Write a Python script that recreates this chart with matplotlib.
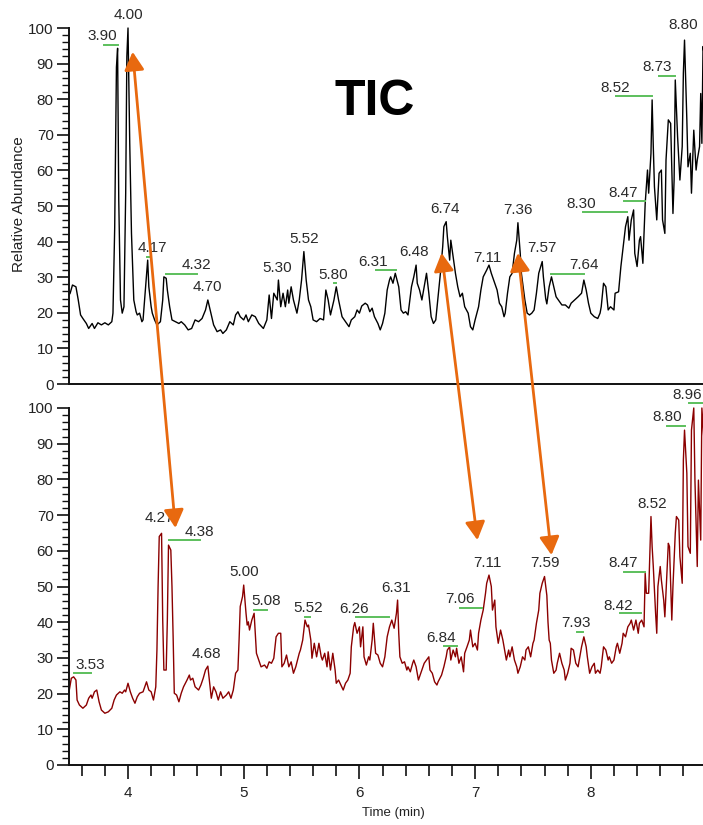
import matplotlib
matplotlib.use("Agg")
import matplotlib.pyplot as plt
from matplotlib.patches import ConnectionPatch
from matplotlib.ticker import MultipleLocator

plt.rcParams['font.family'] = ['Liberation Sans', 'DejaVu Sans']

# ---------------- data ----------------
top_time = [3.49, 3.50, 3.52, 3.55, 3.57, 3.59, 3.61, 3.64, 3.66, 3.69, 3.71, 3.74, 3.77, 3.80, 3.83, 3.86, 3.87, 3.885, 3.90, 3.91,
            3.92, 3.935, 3.95, 3.965, 3.98, 3.99, 4.00, 4.015, 4.03, 4.05, 4.07, 4.08, 4.10, 4.12, 4.13, 4.15, 4.17, 4.18, 4.20, 4.21,
            4.23, 4.25, 4.28, 4.30, 4.31, 4.33, 4.34, 4.36, 4.38, 4.41, 4.44, 4.46, 4.49, 4.52, 4.55, 4.58, 4.61, 4.64, 4.67, 4.69,
            4.71, 4.74, 4.77, 4.80, 4.82, 4.85, 4.88, 4.91, 4.93, 4.95, 4.97, 5.00, 5.02, 5.04, 5.07, 5.10, 5.13, 5.17, 5.20, 5.22,
            5.24, 5.26, 5.29, 5.30, 5.32, 5.34, 5.36, 5.38, 5.39, 5.41, 5.43, 5.46, 5.48, 5.50, 5.52, 5.54, 5.56, 5.58, 5.60, 5.63,
            5.66, 5.69, 5.71, 5.73, 5.75, 5.78, 5.80, 5.82, 5.85, 5.88, 5.91, 5.93, 5.96, 5.98, 6.00, 6.02, 6.05, 6.07, 6.09, 6.11,
            6.13, 6.16, 6.18, 6.20, 6.22, 6.24, 6.26, 6.27, 6.29, 6.31, 6.34, 6.36, 6.38, 6.40, 6.42, 6.45, 6.47, 6.49, 6.50, 6.52,
            6.54, 6.56, 6.58, 6.60, 6.62, 6.64, 6.66, 6.68, 6.70, 6.72, 6.73, 6.75, 6.76, 6.78, 6.79, 6.81, 6.83, 6.85, 6.87, 6.89,
            6.91, 6.94, 6.96, 6.98, 7.00, 7.03, 7.05, 7.07, 7.10, 7.12, 7.14, 7.17, 7.19, 7.21, 7.23, 7.25, 7.26, 7.28, 7.30, 7.32,
            7.34, 7.36, 7.37, 7.39, 7.40, 7.43, 7.45, 7.47, 7.49, 7.51, 7.53, 7.55, 7.58, 7.59, 7.61, 7.62, 7.64, 7.66, 7.68, 7.70,
            7.72, 7.75, 7.78, 7.81, 7.83, 7.86, 7.89, 7.92, 7.94, 7.96, 7.98, 8.00, 8.03, 8.06, 8.08, 8.09, 8.11, 8.13, 8.15, 8.17,
            8.20, 8.21, 8.24, 8.26, 8.28, 8.29, 8.30, 8.32, 8.33, 8.35, 8.37, 8.38, 8.40, 8.42, 8.43, 8.45, 8.47, 8.49, 8.50, 8.52,
            8.53, 8.54, 8.55, 8.57, 8.59, 8.61, 8.62, 8.64, 8.65, 8.67, 8.69, 8.71, 8.72, 8.73, 8.75, 8.77, 8.79, 8.80, 8.81, 8.83,
            8.84, 8.86, 8.87, 8.89, 8.91, 8.92, 8.94, 8.95, 8.96, 8.97, 8.99]
top_val = [25.0, 25.5, 27.8, 27.3, 23.6, 19.4, 18.4, 17.0, 15.6, 17.0, 15.6, 17.2, 16.6, 17.2, 16.6, 17.5, 19.9, 44.0, 89.0, 94.3,
           51.7, 23.6, 19.9, 21.7, 53.6, 92.0, 100.0, 67.6, 42.3, 23.6, 20.3, 19.4, 19.9, 17.5, 18.0, 26.4, 34.8, 27.3, 21.7, 19.9,
           18.0, 16.6, 17.5, 23.6, 30.1, 29.7, 26.4, 21.7, 18.0, 17.5, 17.0, 17.5, 16.6, 15.2, 15.6, 18.0, 17.5, 18.4, 20.8, 23.6,
           20.8, 16.6, 14.7, 15.2, 14.2, 15.2, 17.5, 16.6, 19.4, 20.3, 18.9, 18.0, 19.4, 17.5, 19.4, 18.9, 17.0, 15.6, 18.0, 25.0,
           18.4, 25.5, 23.6, 29.2, 21.7, 25.5, 21.7, 26.4, 22.7, 27.3, 23.6, 19.9, 23.6, 29.2, 37.2, 29.2, 23.6, 21.7, 18.0, 17.5,
           18.4, 18.0, 26.4, 23.6, 19.4, 23.6, 27.3, 23.6, 18.9, 17.5, 16.1, 18.0, 18.9, 20.8, 19.9, 21.9, 22.7, 22.2, 20.3, 21.3,
           18.9, 17.0, 15.2, 17.0, 19.9, 26.4, 29.2, 30.1, 28.3, 31.1, 27.3, 20.8, 19.9, 20.3, 19.4, 27.3, 30.1, 33.4, 28.3, 26.4,
           23.6, 27.3, 31.1, 25.5, 18.9, 17.0, 18.0, 24.5, 31.1, 38.6, 44.2, 45.6, 41.4, 34.8, 40.4, 35.8, 31.1, 27.3, 24.5, 25.5,
           21.7, 19.9, 16.1, 15.2, 18.0, 21.7, 26.4, 30.1, 32.0, 33.4, 31.1, 28.3, 26.4, 22.7, 21.7, 18.9, 19.9, 25.5, 30.1, 31.1,
           36.7, 40.4, 45.3, 36.7, 31.1, 23.6, 19.9, 19.4, 19.9, 20.8, 25.5, 31.1, 34.4, 30.1, 24.0, 22.5, 27.3, 30.1, 27.3, 24.5,
           23.6, 22.2, 22.2, 21.3, 22.7, 23.6, 24.5, 25.5, 29.2, 26.4, 22.7, 19.9, 18.9, 18.4, 19.9, 21.7, 28.3, 27.3, 20.8, 21.7,
           20.8, 25.5, 25.9, 33.0, 38.6, 41.4, 44.2, 47.0, 40.4, 46.1, 48.9, 36.7, 33.0, 40.4, 41.4, 33.9, 50.7, 60.1, 53.6, 64.8,
           79.8, 66.7, 55.4, 46.1, 59.2, 60.1, 46.1, 42.3, 62.9, 74.2, 73.2, 47.9, 57.3, 85.4, 69.5, 57.3, 66.7, 87.3, 96.6, 74.2,
           61.0, 64.8, 53.6, 71.3, 60.1, 62.9, 66.7, 81.6, 67.6, 94.8, 90.0]

bot_time = [3.49, 3.51, 3.53, 3.55, 3.56, 3.58, 3.61, 3.64, 3.66, 3.68, 3.69, 3.71, 3.73, 3.75, 3.77, 3.80, 3.83, 3.86, 3.88, 3.90,
            3.93, 3.95, 3.97, 3.98, 4.00, 4.02, 4.04, 4.06, 4.08, 4.10, 4.13, 4.15, 4.16, 4.18, 4.20, 4.22, 4.24, 4.25, 4.26, 4.27,
            4.29, 4.30, 4.31, 4.33, 4.34, 4.35, 4.37, 4.38, 4.39, 4.40, 4.42, 4.44, 4.46, 4.48, 4.51, 4.53, 4.54, 4.56, 4.58, 4.61,
            4.63, 4.65, 4.67, 4.69, 4.70, 4.72, 4.74, 4.76, 4.78, 4.80, 4.82, 4.85, 4.87, 4.89, 4.91, 4.93, 4.95, 4.96, 4.97, 4.99,
            5.00, 5.02, 5.03, 5.04, 5.05, 5.07, 5.09, 5.10, 5.11, 5.13, 5.15, 5.18, 5.20, 5.22, 5.24, 5.26, 5.28, 5.30, 5.32, 5.33,
            5.35, 5.37, 5.39, 5.41, 5.43, 5.45, 5.48, 5.49, 5.51, 5.53, 5.55, 5.56, 5.58, 5.59, 5.61, 5.63, 5.65, 5.67, 5.68, 5.70,
            5.72, 5.73, 5.75, 5.77, 5.79, 5.80, 5.82, 5.84, 5.86, 5.88, 5.90, 5.92, 5.93, 5.95, 5.96, 5.98, 6.00, 6.01, 6.03, 6.04,
            6.06, 6.08, 6.09, 6.11, 6.12, 6.14, 6.16, 6.18, 6.20, 6.22, 6.24, 6.26, 6.28, 6.30, 6.32, 6.33, 6.34, 6.35, 6.37, 6.39,
            6.41, 6.42, 6.44, 6.46, 6.47, 6.49, 6.51, 6.53, 6.54, 6.56, 6.58, 6.60, 6.61, 6.63, 6.65, 6.67, 6.68, 6.71, 6.73, 6.75,
            6.76, 6.78, 6.79, 6.81, 6.83, 6.84, 6.86, 6.88, 6.90, 6.91, 6.93, 6.95, 6.96, 6.98, 7.00, 7.02, 7.03, 7.05, 7.07, 7.09,
            7.10, 7.12, 7.14, 7.15, 7.17, 7.18, 7.20, 7.22, 7.24, 7.25, 7.27, 7.29, 7.30, 7.32, 7.34, 7.36, 7.37, 7.39, 7.41, 7.43,
            7.44, 7.46, 7.48, 7.50, 7.51, 7.53, 7.55, 7.56, 7.58, 7.60, 7.62, 7.63, 7.64, 7.65, 7.66, 7.68, 7.70, 7.71, 7.73, 7.75,
            7.77, 7.78, 7.80, 7.82, 7.83, 7.85, 7.87, 7.89, 7.90, 7.92, 7.94, 7.96, 7.97, 7.99, 8.01, 8.03, 8.04, 8.06, 8.08, 8.09,
            8.11, 8.13, 8.15, 8.16, 8.18, 8.20, 8.22, 8.23, 8.25, 8.27, 8.28, 8.30, 8.32, 8.34, 8.35, 8.37, 8.39, 8.41, 8.42, 8.44,
            8.46, 8.47, 8.48, 8.50, 8.51, 8.52, 8.53, 8.54, 8.56, 8.57, 8.58, 8.60, 8.61, 8.63, 8.64, 8.66, 8.67, 8.68, 8.70, 8.71,
            8.73, 8.74, 8.76, 8.77, 8.79, 8.80, 8.81, 8.83, 8.84, 8.86, 8.87, 8.89, 8.90, 8.92, 8.93, 8.95, 8.96, 8.98]
bot_val = [20.5, 24.3, 24.7, 23.8, 18.2, 16.8, 15.9, 16.8, 18.7, 19.6, 18.7, 20.5, 21.0, 17.7, 15.4, 14.5, 14.9, 15.9, 18.2, 19.6,
           20.5, 20.1, 21.0, 20.5, 22.9, 20.5, 18.7, 17.3, 19.1, 20.1, 20.5, 22.4, 23.3, 21.0, 20.5, 18.2, 21.9, 32.2, 50.0, 64.0,
           64.9, 40.6, 26.6, 26.6, 40.6, 61.6, 60.2, 50.0, 35.9, 20.1, 19.6, 17.7, 20.1, 21.9, 23.8, 25.2, 23.8, 24.3, 21.9, 21.0,
           22.4, 24.3, 26.6, 27.7, 24.7, 18.7, 21.9, 20.5, 18.2, 20.5, 18.7, 19.6, 20.5, 18.7, 21.0, 25.7, 26.6, 35.0, 44.4, 47.2,
           50.4, 42.5, 39.2, 40.1, 37.8, 40.6, 42.5, 36.9, 31.3, 29.4, 27.5, 28.0, 27.1, 28.9, 28.5, 29.9, 35.9, 36.9, 36.9, 27.5,
           28.5, 30.8, 27.5, 28.9, 25.7, 27.5, 31.3, 32.2, 35.0, 40.6, 38.7, 39.2, 35.0, 29.9, 34.1, 30.3, 34.1, 30.3, 29.4, 31.3,
           27.5, 31.7, 26.6, 31.3, 26.6, 22.9, 23.8, 22.4, 21.0, 22.9, 23.8, 25.7, 33.1, 38.7, 39.9, 36.9, 38.7, 33.1, 38.7, 30.3,
           28.0, 30.3, 29.4, 35.0, 39.7, 31.3, 30.8, 28.5, 27.5, 30.3, 35.9, 38.7, 40.6, 38.3, 42.5, 46.2, 36.9, 30.3, 28.5, 28.9,
           26.6, 27.5, 26.1, 28.5, 29.4, 27.5, 23.8, 25.7, 26.6, 28.5, 29.4, 30.3, 26.6, 25.7, 23.3, 22.4, 23.3, 25.2, 27.5, 30.3,
           32.2, 33.1, 29.4, 32.2, 30.3, 32.7, 28.5, 30.3, 26.1, 31.3, 33.1, 35.0, 37.8, 33.1, 34.1, 32.2, 36.9, 40.6, 43.4, 48.1,
           50.9, 53.2, 50.0, 43.4, 46.2, 38.7, 34.1, 37.8, 35.0, 33.1, 29.4, 32.2, 30.3, 33.1, 29.4, 27.5, 25.7, 27.5, 30.3, 29.4,
           32.2, 33.1, 30.3, 34.1, 35.0, 39.7, 43.4, 48.1, 50.9, 52.8, 47.5, 40.0, 35.0, 34.1, 29.4, 25.7, 26.6, 28.5, 31.3, 28.5,
           26.6, 23.8, 25.7, 28.5, 32.7, 32.2, 28.5, 27.5, 29.4, 33.1, 35.9, 33.1, 30.3, 25.7, 27.5, 28.5, 25.7, 26.6, 25.7, 27.5,
           33.1, 32.2, 29.4, 30.3, 28.5, 29.4, 33.1, 34.1, 31.3, 34.1, 36.9, 35.9, 38.7, 39.7, 40.6, 37.8, 40.6, 36.9, 39.7, 40.6,
           38.7, 53.7, 48.1, 48.1, 59.3, 69.6, 61.2, 55.6, 42.5, 36.9, 50.0, 55.6, 51.8, 46.2, 41.5, 55.6, 62.1, 61.2, 40.6, 50.0,
           64.9, 69.6, 68.6, 58.4, 50.9, 85.4, 93.8, 81.7, 61.2, 59.3, 93.8, 100.0, 79.8, 55.6, 79.8, 63.0, 100.0, 90.0]

# peak labels: (text, x, y) and leader lines (x0, x1, y)
top_labels = [("3.90", 3.78, 97.8), ("4.00", 4.00, 103.7), ("4.17", 4.21, 38.1), ("4.32", 4.59, 33.4),
              ("4.70", 4.69, 27.3), ("5.30", 5.29, 32.5), ("5.52", 5.52, 40.6), ("5.80", 5.77, 30.6),
              ("6.31", 6.12, 34.4), ("6.48", 6.47, 37.2), ("6.74", 6.74, 49.1), ("7.11", 7.11, 35.3),
              ("7.36", 7.37, 48.9), ("7.57", 7.58, 38.1), ("7.64", 7.94, 33.4), ("8.30", 7.92, 50.6),
              ("8.47", 8.28, 53.7), ("8.52", 8.21, 83.1), ("8.73", 8.57, 89.0), ("8.80", 8.80, 100.8)]
top_leaders = [(3.79, 3.91, 95.2), (4.16, 4.19, 35.6), (4.33, 4.60, 31.0), (5.78, 5.80, 28.3),
               (6.14, 6.32, 31.9), (7.66, 7.94, 30.9), (7.93, 8.31, 48.4), (8.29, 8.47, 51.5),
               (8.22, 8.53, 81.0), (8.59, 8.73, 86.5)]
bot_labels = [("3.53", 3.67, 28.0), ("4.27", 4.27, 69.1), ("4.38", 4.62, 65.4), ("4.68", 4.68, 31.1),
              ("5.00", 5.00, 54.2), ("5.08", 5.19, 45.8), ("5.52", 5.56, 43.9), ("6.26", 5.95, 43.6),
              ("6.31", 6.32, 49.5), ("6.84", 6.71, 35.7), ("7.06", 6.87, 46.4), ("7.11", 7.11, 56.7),
              ("7.59", 7.60, 56.5), ("7.93", 7.87, 39.7), ("8.42", 8.24, 44.5), ("8.47", 8.28, 56.7),
              ("8.52", 8.53, 73.0), ("8.80", 8.66, 97.4), ("8.96", 8.83, 103.6)]
bot_leaders = [(3.53, 3.68, 25.7), (4.35, 4.62, 62.9), (5.09, 5.20, 43.4), (5.53, 5.57, 41.5),
               (5.97, 6.26, 41.5), (6.73, 6.84, 33.4), (6.87, 7.06, 44.0), (7.88, 7.93, 37.2),
               (8.25, 8.43, 42.5), (8.29, 8.47, 54.2), (8.66, 8.81, 95.0), (8.85, 8.97, 101.3)]

# arrows between panels: (top x, top y, bottom x, bottom y)
arrows = [(4.04, 93.3, 4.41, 66.4), (6.71, 36.8, 7.02, 63.0), (7.37, 36.8, 7.66, 58.8)]

xticks = [4, 5, 6, 7, 8, 9]

# ---------------- figure ----------------
W, H = 703, 825
fig = plt.figure(figsize=(W / 100, H / 100), dpi=100)

def fx(px):
    return px / W

def fy(py):
    return 1 - py / H

left_px, right_px = 69, 710
ax1 = fig.add_axes([fx(left_px), fy(384), (right_px - left_px) / W, (384 - 28) / H])
ax2 = fig.add_axes([fx(left_px), fy(765), (right_px - left_px) / W, (765 - 408) / H])

xmin, xmax = 3.49, 3.49 + (right_px - left_px) / 115.7

tick_color = '#222222'
for ax in (ax1, ax2):
    ax.set_xlim(xmin, xmax)
    ax.set_ylim(0, 100)
    for s in ('top', 'right'):
        ax.spines[s].set_visible(False)
    for s in ('left', 'bottom'):
        ax.spines[s].set_linewidth(1.4)
        ax.spines[s].set_color('#111111')
    ax.yaxis.set_major_locator(MultipleLocator(10))
    ax.yaxis.set_minor_locator(MultipleLocator(2))
    ax.tick_params(axis='y', which='major', length=9, width=1.2, labelsize=11, colors='#111111',
                   labelcolor=tick_color, pad=2)
    ax.tick_params(axis='y', which='minor', length=5, width=1.0, colors='#111111')
    ax.patch.set_alpha(0)

ax1.tick_params(axis='x', which='both', bottom=False, labelbottom=False)
ax2.set_xticks(xticks)
ax2.xaxis.set_minor_locator(MultipleLocator(0.2))
ax2.tick_params(axis='x', which='major', length=10, width=1.2, labelsize=11, colors='#111111',
                labelcolor=tick_color, pad=5)
ax2.tick_params(axis='x', which='minor', length=8, width=1.2, colors='#111111')

ax1.plot(top_time, top_val, color='black', lw=1.0, clip_on=False)
ax2.plot(bot_time, bot_val, color='#8B0000', lw=1.0, clip_on=False)

leader_color = '#5cbf5c'
for ax, labels, leaders in ((ax1, top_labels, top_leaders), (ax2, bot_labels, bot_leaders)):
    for x0, x1, y in leaders:
        ax.plot([x0, x1], [y, y], color=leader_color, lw=1.4, clip_on=False)
    for txt, x, y in labels:
        ax.text(x, y, txt, ha='center', va='center', fontsize=11, color='#2a2a2a', clip_on=False)

# texts
fig.text(fx(375), fy(102), 'TIC', ha='center', va='center', fontsize=36, fontweight='bold', color='black')
fig.text(fx(19), fy(204), 'Relative Abundance', rotation=90, ha='center', va='center', fontsize=11,
         color=tick_color)
fig.text(fx(393), fy(813), 'Time (min)', ha='center', va='center', fontsize=9.5, color=tick_color)

orange = '#E8690F'
for xa, ya, xb, yb in arrows:
    con = ConnectionPatch(xyA=(xa, ya), coordsA=ax1.transData, xyB=(xb, yb), coordsB=ax2.transData,
                          arrowstyle='<|-|>,head_length=0.55,head_width=0.3', mutation_scale=20,
                          color=orange, lw=2.0, shrinkA=0, shrinkB=0, zorder=10)
    fig.add_artist(con)

fig.savefig('out.png', dpi=100)
